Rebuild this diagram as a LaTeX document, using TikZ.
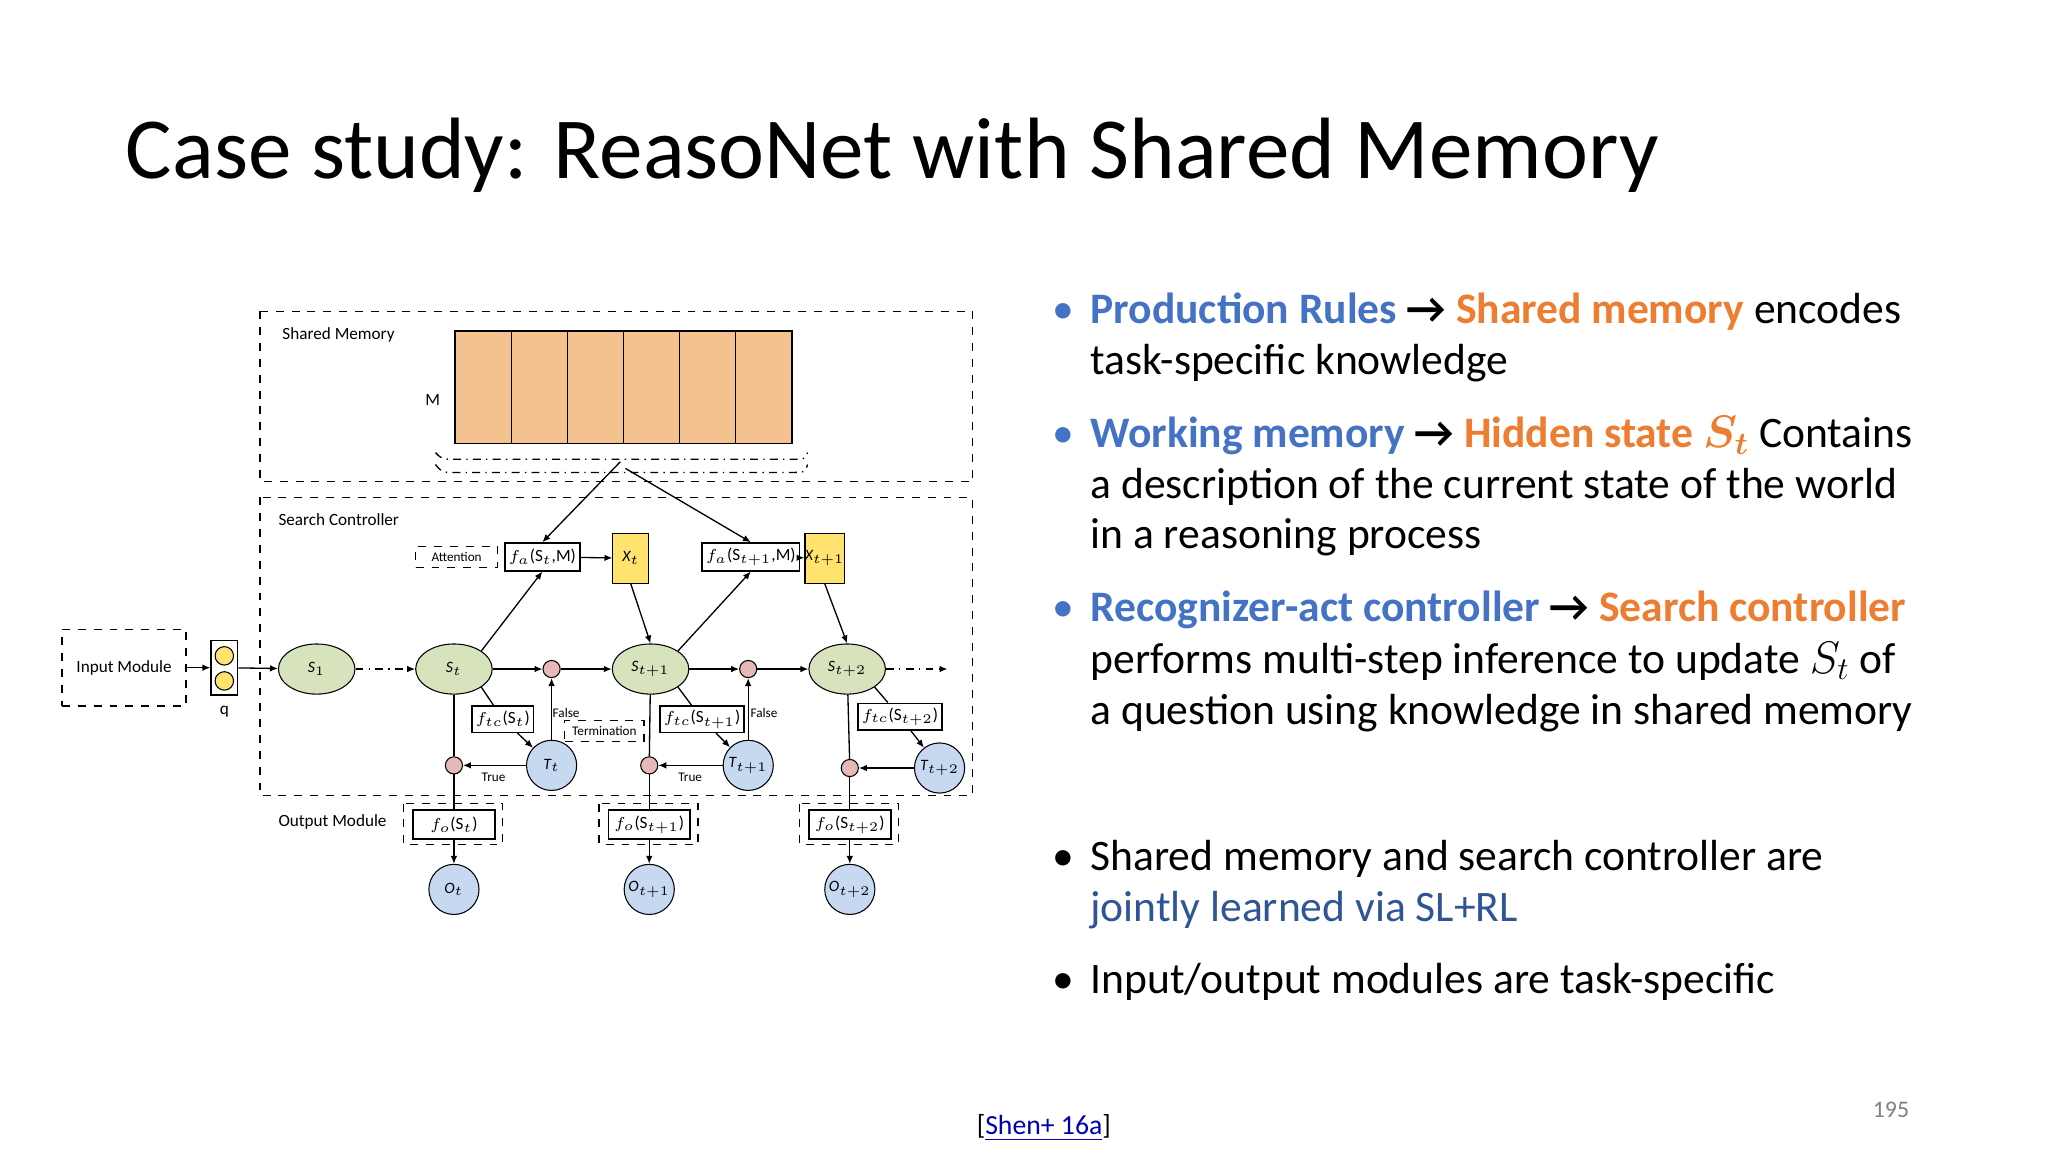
\documentclass[tikz,border=0pt]{standalone}
\usepackage{amsmath,bm}
\usepackage{fontspec}
\setmainfont{Carlito}
\usetikzlibrary{shapes.geometric,arrows.meta}
\definecolor{pblue}{HTML}{4472C4}
\definecolor{porange}{HTML}{ED7D31}
\definecolor{dblue}{HTML}{2F5597}
\definecolor{memc}{HTML}{F4C28F}
\definecolor{sgreen}{HTML}{D6E3BC}
\definecolor{cblue}{HTML}{C6D9F1}
\definecolor{pink}{HTML}{E6B9B8}
\definecolor{yel}{HTML}{FFE36E}
\begin{document}
\begin{tikzpicture}[x=0.5pt,y=-0.5pt,
  dbox/.style={draw,dashed,line width=0.5pt},
  sbox/.style={draw,line width=0.6pt,inner sep=1.5pt,font=\fontsize{6.5}{7}\selectfont},
  st/.style={ellipse,draw,fill=sgreen,minimum width=29pt,minimum height=19pt,inner sep=0pt,font=\fontsize{6}{7}\selectfont\itshape},
  cb/.style={circle,draw,fill=cblue,minimum size=19pt,inner sep=0pt,font=\fontsize{6}{7}\selectfont\itshape},
  pk/.style={circle,draw,fill=pink,minimum size=6.5pt,inner sep=0pt},
  ar/.style={-{Latex[length=3pt,width=2.5pt]},line width=0.5pt},
  ln/.style={line width=0.5pt},
  sm/.style={font=\fontsize{6}{7}\selectfont},
  rt/.style={anchor=base west,font=\fontsize{16.5}{18}\selectfont,inner sep=0pt},
  bl/.style={anchor=base west,font=\fontsize{16.5}{18}\selectfont,inner sep=0pt}]
\useasboundingbox (0,0) rectangle (1552,873);
\fill[white] (0,0) rectangle (1552,873);
% title
\node[anchor=base west,inner sep=0pt,font=\fontsize{33}{36}\selectfont] (title) at (95,135) {Case study: ReasoNet with Shared Memory};
% shared memory
\draw[dbox] (197,236) rectangle (737,365);
\node[anchor=north west,font=\fontsize{6.5}{7}\selectfont] (smlab) at (207,241) {Shared Memory};
\foreach \i in {0,...,5}{\draw[fill=memc,line width=0.6pt] (345+\i*42.5,251) rectangle (387.5+\i*42.5,336);}
\node[font=\fontsize{6.5}{7}\selectfont] (M) at (328,303) {M};
\draw[ln,dash dot] (330,343) .. controls (335,348) .. (345,348) -- (600,348) .. controls (610,348) .. (612,343);
\draw[ln,dash dot] (330,352) .. controls (335,358) .. (345,358) -- (600,358) .. controls (610,358) .. (612,352);
\coordinate (mem1) at (470,350);
\coordinate (mem2) at (474,355);
% search controller
\draw[dbox] (197,377) rectangle (737,603);
\node[anchor=north west,font=\fontsize{6.5}{7}\selectfont] (sclab) at (204,382) {Search Controller};
\node[dbox,inner sep=1.5pt,font=\fontsize{5}{6}\selectfont,minimum width=31pt,minimum height=8pt] (att) at (346,422) {Attention};
\node[sbox,minimum width=26pt,minimum height=10.5pt] (fa1) at (411,422) {$f_a$(S$_t$,M)};
\node[draw,fill=yel,minimum width=13.5pt,minimum height=19pt,inner sep=0pt,font=\fontsize{6}{7}\selectfont\itshape] (x1) at (478,423) {X$_t$};
\node[sbox,minimum width=31pt,minimum height=10.5pt] (fa2) at (569,422) {$f_a$(S$_{t+1}$,M)};
\node[draw,fill=yel,minimum width=13.5pt,minimum height=19pt,inner sep=0pt,font=\fontsize{6}{7}\selectfont\itshape] (x2) at (625,423) {X$_{t+1}$};
% input
\node[dbox,minimum width=47pt,minimum height=29pt,font=\fontsize{6.5}{7}\selectfont] (inp) at (94,506) {Input Module};
\node[draw,minimum width=10pt,minimum height=20.5pt,inner sep=0pt,line width=0.6pt] (q) at (170,506) {};
\node[circle,draw,fill=yel,minimum size=7pt,inner sep=0pt] (q1) at (170,497) {};
\node[circle,draw,fill=yel,minimum size=7pt,inner sep=0pt] (q2) at (170,516) {};
\node[font=\fontsize{6.5}{7}\selectfont] (qlab) at (170,539) {q};
% states
\node[st] (s1) at (240,507) {S$_1$};
\node[st] (s2) at (344,507) {S$_t$};
\node[st] (s3) at (493,507) {S$_{t+1}$};
\node[st] (s4) at (642,507) {S$_{t+2}$};
\coordinate (send) at (718,507);
\node[pk] (p1) at (418,507) {};
\node[pk] (p2) at (567,507) {};
\node[pk] (b1) at (344,580) {};
\node[pk] (b2) at (492,580) {};
\node[pk] (b3) at (644,582) {};
\node[sbox,minimum width=23pt,minimum height=10pt] (ftc1) at (381,545) {$f_{tc}$(S$_t$)};
\node[sbox,minimum width=24pt,minimum height=10pt] (ftc2) at (532,545) {$f_{tc}$(S$_{t+1}$)};
\node[sbox,minimum width=26pt,minimum height=10pt] (ftc3) at (682,543) {$f_{tc}$(S$_{t+2}$)};
\node[cb] (t1) at (418,580) {T$_t$};
\node[cb] (t2) at (567,580) {T$_{t+1}$};
\node[cb] (t3) at (712,582) {T$_{t+2}$};
\node[dbox,inner sep=1pt,font=\fontsize{5}{6}\selectfont,minimum width=30pt,minimum height=8pt] (term) at (458,554) {Termination};
\node[font=\fontsize{5}{6}\selectfont] (f1) at (429,540) {False};
\node[font=\fontsize{5}{6}\selectfont] (f2) at (579,540) {False};
\node[font=\fontsize{5}{6}\selectfont] (tr1) at (374,589) {True};
\node[font=\fontsize{5}{6}\selectfont] (tr2) at (523,589) {True};
% output
\node[anchor=east,font=\fontsize{6.5}{7}\selectfont] (outlab) at (300,623) {Output Module};
\draw[dbox] (306,609) rectangle (381,640);
\draw[dbox] (454,609) rectangle (529,640);
\draw[dbox] (606,609) rectangle (681,640);
\node[sbox,minimum width=31pt,minimum height=11pt] (fo1) at (344,625) {$f_o$(S$_t$)};
\node[sbox,minimum width=31pt,minimum height=11pt] (fo2) at (492,625) {$f_o$(S$_{t+1}$)};
\node[sbox,minimum width=31pt,minimum height=11pt] (fo3) at (644,625) {$f_o$(S$_{t+2}$)};
\node[cb] (o1) at (344,674) {O$_t$};
\node[cb] (o2) at (492,674) {O$_{t+1}$};
\node[cb] (o3) at (644,674) {O$_{t+2}$};
% connectors
\draw[ar] (inp) -- (q);
\draw[ar] (q) -- (s1);
\draw[ar,dash dot] (s1) -- (s2);
\draw[ar] (s2) -- (p1);
\draw[ar] (p1) -- (s3);
\draw[ar] (s3) -- (p2);
\draw[ar] (p2) -- (s4);
\draw[ar,dash dot] (s4) -- (send);
\draw[ar] (mem1) -- (fa1.north);
\draw[ar] (mem2) -- (fa2.north);
\draw[ar] (s2.north east) -- (fa1.south);
\draw[ar] (s3.north east) -- (fa2.south);
\draw[ar] (fa1) -- (x1);
\draw[ar] (fa2) -- (x2);
\draw[ar] (x1.south) -- (s3.north);
\draw[ar] (x2.south) -- (s4.north);
\draw[ln] (s2.south east) -- (ftc1);
\draw[ar] (ftc1) -- (t1);
\draw[ln] (s3.south east) -- (ftc2);
\draw[ar] (ftc2) -- (t2);
\draw[ln] (s4.south east) -- (ftc3);
\draw[ar] (ftc3) -- (t3);
\draw[ar] (t1) -- (p1);
\draw[ar] (t2) -- (p2);
\draw[ar] (t1) -- (b1);
\draw[ar] (t2) -- (b2);
\draw[ar] (t3) -- (b3);
\draw[ln] (s2) -- (b1); \draw[ln] (b1) -- (fo1); \draw[ar] (fo1) -- (o1);
\draw[ln] (s3) -- (b2); \draw[ln] (b2) -- (fo2); \draw[ar] (fo2) -- (o2);
\draw[ln] (s4) -- (b3); \draw[ln] (b3) -- (fo3); \draw[ar] (fo3) -- (o3);
% right text
\foreach \y/\c in {245/pblue,339/pblue,471/pblue,660/black,753/black}{\node[bl,text=\c] at (797,\y) {•};}
\node[rt] (l1) at (826,245) {\textcolor{pblue}{\bfseries Production Rules} \textbf{→} \textcolor{porange}{\bfseries Shared memory} encodes};
\node[rt] (l2) at (826,284) {task-specific knowledge};
\node[rt] (l3) at (826,339) {\textcolor{pblue}{\bfseries Working memory} \textbf{→} \textcolor{porange}{\bfseries Hidden state} \textcolor{porange}{$\bm{S_t}$} Contains};
\node[rt] (l4) at (826,378) {a description of the current state of the world};
\node[rt] (l5) at (826,416) {in a reasoning process};
\node[rt] (l6) at (826,471) {\textcolor{pblue}{\bfseries Recognizer-act controller} \textbf{→} \textcolor{porange}{\bfseries Search controller}};
\node[rt] (l7) at (826,510) {performs multi-step inference to update $S_t$ of};
\node[rt] (l8) at (826,549) {a question using knowledge in shared memory};
\node[rt] (l9) at (826,660) {Shared memory and search controller are};
\node[rt,text=dblue] (l10) at (826,698) {jointly learned via SL+RL};
\node[rt] (l11) at (826,753) {Input/output modules are task-specific};
\node[anchor=base,inner sep=0pt,font=\fontsize{10.5}{12}\selectfont] (cite) at (791,860) {[\textcolor{blue!70!black}{\underline{Shen+ 16a}}]};
\node[anchor=base,inner sep=0pt,text=gray,font=\fontsize{9}{10}\selectfont] (pg) at (1433,847) {195};
\end{tikzpicture}
\end{document}
